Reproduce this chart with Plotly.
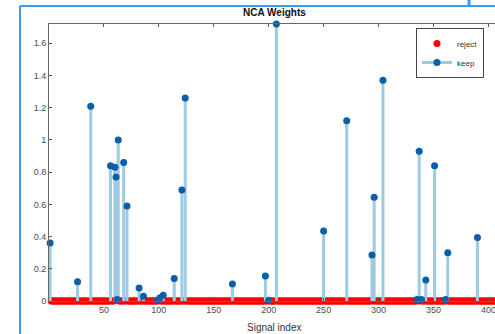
import plotly.graph_objects as go

# ---- data ----
keep_idx = [1, 26, 38, 56, 60, 61, 62, 63, 68, 71, 82, 86, 99, 101, 104, 114, 121, 124,
            167, 197, 200, 207, 250, 271, 294, 296, 304, 335, 337, 339, 343, 351, 361, 363, 390]
keep_w = [0.36, 0.12, 1.21, 0.84, 0.83, 0.77, 0.01, 1.00, 0.86, 0.59, 0.08, 0.03, 0.005, 0.02, 0.035, 0.14, 0.69, 1.26,
          0.105, 0.155, 0.005, 1.72, 0.435, 1.12, 0.285, 0.645, 1.37, 0.01, 0.93, 0.01, 0.13, 0.84, 0.01, 0.30, 0.395]
n_signals = 410
reject_idx = [i for i in range(1, n_signals + 1) if i not in keep_idx]
reject_w = [0.0 for _ in reject_idx]
x_ticks = [50, 100, 150, 200, 250, 300, 350, 400]
y_ticks = [0, 0.2, 0.4, 0.6, 0.8, 1.0, 1.2, 1.4, 1.6]
y_tick_text = ["0", "0.2", "0.4", "0.6", "0.8", "1", "1.2", "1.4", "1.6"]

W, H = 495, 334
ML, MR, MT, MB = 49, 0, 24, 33
PW, PH = W - ML - MR, H - MT - MB


def px_x(px):
    return (px - ML) / PW


def px_y(py):
    return 1 - (py - MT) / PH


STEM = "#9ccbe3"
BLUE = "#0b5ea8"

fig = go.Figure()

fig.add_trace(go.Scatter(
    x=reject_idx, y=reject_w, mode="markers", name="reject",
    marker=dict(color="#ff0000", size=7), cliponaxis=False,
))

stem_x, stem_y = [], []
for i, v in zip(keep_idx, keep_w):
    stem_x += [i, i, None]
    stem_y += [0, v, None]
fig.add_trace(go.Scatter(
    x=stem_x, y=stem_y, mode="lines", showlegend=False,
    line=dict(color=STEM, width=3), hoverinfo="skip", cliponaxis=False,
))

mk_x, mk_y = [], []
for i, v in zip(keep_idx, keep_w):
    mk_x += [i, None]
    mk_y += [v, None]
fig.add_trace(go.Scatter(
    x=mk_x, y=mk_y, mode="lines+markers", name="keep", connectgaps=False,
    line=dict(color=STEM, width=3), marker=dict(color=BLUE, size=7), cliponaxis=False,
))

axis_font = dict(family="Liberation Sans, Arial", size=9, color="#4a4a4a")
fig.update_xaxes(
    range=[0, 406], tickvals=x_ticks, ticks="inside", ticklen=3, tickcolor="#555",
    showline=True, linecolor="#666", linewidth=1, mirror="ticks",
    showgrid=False, zeroline=False, tickfont=axis_font, ticklabeloverflow="allow",
)
fig.update_yaxes(
    range=[0, 1.72], tickvals=y_ticks, ticktext=y_tick_text, ticks="inside", ticklen=3,
    tickcolor="#555", showline=True, linecolor="#666", linewidth=1,
    showgrid=False, zeroline=False, tickfont=axis_font,
)

border = "#3d9bef"
fig.update_layout(
    width=W, height=H, margin=dict(l=ML, r=MR, t=MT, b=MB, pad=0),
    paper_bgcolor="white", plot_bgcolor="white",
    showlegend=True,
    legend=dict(x=px_x(416), y=px_y(28), xanchor="left", yanchor="top",
                bordercolor="#444", borderwidth=1, bgcolor="white",
                font=dict(family="Liberation Sans, Arial", size=8, color="#333"),
                tracegroupgap=0, itemwidth=30),
    annotations=[
        dict(text="<b>NCA Weights</b>", x=px_x(274), y=px_y(12), xref="paper", yref="paper",
             showarrow=False, xanchor="center", yanchor="middle",
             font=dict(family="Liberation Sans, Arial", size=10, color="#111")),
        dict(text="Signal index", x=px_x(274), y=px_y(327), xref="paper", yref="paper",
             showarrow=False, xanchor="center", yanchor="middle",
             font=dict(family="Liberation Sans, Arial", size=10, color="#333")),
    ],
    shapes=[
        dict(type="line", xref="paper", yref="paper", x0=px_x(20), x1=px_x(20),
             y0=px_y(6), y1=px_y(334), line=dict(color=border, width=2)),
        dict(type="line", xref="paper", yref="paper", x0=px_x(20), x1=px_x(495),
             y0=px_y(6), y1=px_y(6), line=dict(color=border, width=2)),
        dict(type="line", xref="paper", yref="paper", x0=px_x(469), x1=px_x(469),
             y0=px_y(0), y1=px_y(6), line=dict(color=border, width=3)),
    ],
)

fig.write_html("out.html", config={"displayModeBar": False},
               post_script="document.body.style.margin='0';document.body.style.overflow='hidden';")
